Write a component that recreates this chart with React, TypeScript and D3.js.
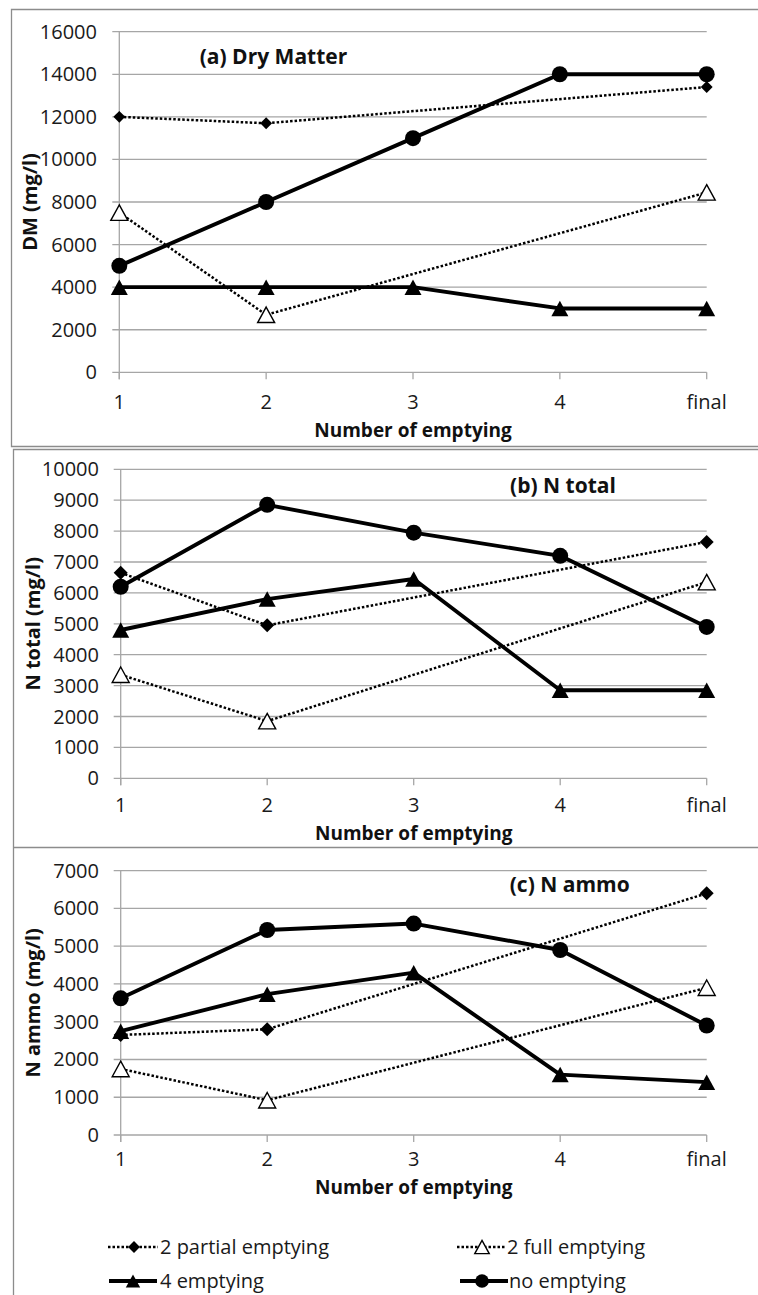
import React from "react";
import * as d3 from "d3";

const categories = ["1", "2", "3", "4", "final"];

// (a) Dry Matter
const dmPartial = [12000, 11700, null, null, 13400];
const dmFull = [7500, 2700, null, null, 8450];
const dmFour = [4000, 4000, 4000, 3000, 3000];
const dmNone = [5000, 8000, 11000, 14000, 14000];
const dmTicks = [0, 2000, 4000, 6000, 8000, 10000, 12000, 14000, 16000];

// (b) N total
const ntPartial = [6650, 4950, null, null, 7650];
const ntFull = [3350, 1850, null, null, 6350];
const ntFour = [4800, 5800, 6450, 2850, 2850];
const ntNone = [6200, 8850, 7950, 7200, 4900];
const ntTicks = [0, 1000, 2000, 3000, 4000, 5000, 6000, 7000, 8000, 9000, 10000];

// (c) N ammo
const naPartial = [2650, 2800, null, null, 6400];
const naFull = [1750, 920, null, null, 3900];
const naFour = [2750, 3730, 4300, 1600, 1400];
const naNone = [3620, 5430, 5600, 4900, 2900];
const naTicks = [0, 1000, 2000, 3000, 4000, 5000, 6000, 7000];

const seriesNames = ["2 partial emptying", "2 full emptying", "4 emptying", "no emptying"];

const FONT = "'Open Sans', 'Noto Sans', sans-serif";
const GRID = "#a6a6a6";
const BORDER = "#8c8c8c";

type Kind = "diamond" | "openTri" | "tri" | "circle";
const kinds: Kind[] = ["diamond", "openTri", "tri", "circle"];

function Marker({ kind, x, y, scale = 1 }: { kind: Kind; x: number; y: number; scale?: number }) {
  if (kind === "circle") return <circle cx={x} cy={y} r={8 * scale} fill="#000" />;
  if (kind === "diamond") {
    const s = 7 * scale;
    return <path d={`M${x},${y - s}L${x + s},${y}L${x},${y + s}L${x - s},${y}Z`} fill="#000" />;
  }
  const w = 17 * scale, h = 15.5 * scale;
  const d = `M${x},${y - h / 2}L${x + w / 2},${y + h / 2}L${x - w / 2},${y + h / 2}Z`;
  if (kind === "tri") return <path d={d} fill="#000" />;
  return <path d={d} fill="#fff" stroke="#000" strokeWidth={1.4} />;
}

type PanelCfg = {
  series: (number | null)[][];
  ticks: number[];
  yTop: number;
  yBottom: number;
  xLeft: number;
  xRight: number;
  tickRight: number;
  yTitle: string;
  yTitleX: number;
  title: string;
  titleX: number;
  titleY: number;
  xTickY: number;
  xTitleY: number;
  diamondScale: number;
};

function Panel({ cfg }: { cfg: PanelCfg }) {
  const x = d3.scalePoint<string>().domain(categories).range([cfg.xLeft, cfg.xRight]);
  const maxV = cfg.ticks[cfg.ticks.length - 1];
  const y = d3.scaleLinear().domain([0, maxV]).range([cfg.yBottom, cfg.yTop]);
  const x0 = x(categories[0])!;
  const line = d3
    .line<{ c: string; v: number | null }>()
    .x((d) => x(d.c)!)
    .y((d) => y(d.v as number));
  return (
    <g>
      {cfg.ticks.map((t) => (
        <g key={t}>
          <line x1={x0 - 7} x2={cfg.xRight} y1={y(t)} y2={y(t)} stroke={GRID} strokeWidth={1.3} />
          <text
            x={cfg.tickRight}
            y={y(t)}
            dy="0.35em"
            textAnchor="end"
            fontSize={20}
            fill="#1a1a1a"
            fontFamily={FONT}
          >
            {t}
          </text>
        </g>
      ))}
      <line x1={x0} x2={x0} y1={cfg.yTop} y2={cfg.yBottom + 7} stroke={GRID} strokeWidth={1.3} />
      {categories.map((c) => (
        <g key={c}>
          <line x1={x(c)} x2={x(c)} y1={cfg.yBottom} y2={cfg.yBottom + 7} stroke={GRID} strokeWidth={1.3} />
          <text x={x(c)} y={cfg.xTickY} dy="0.35em" textAnchor="middle" fontSize={20} fill="#1a1a1a" fontFamily={FONT}>
            {c}
          </text>
        </g>
      ))}
      <text
        x={(cfg.xLeft + cfg.xRight) / 2}
        y={cfg.xTitleY}
        dy="0.35em"
        textAnchor="middle"
        fontSize={19}
        fontWeight="bold"
        fontFamily={FONT}
        fill="#111"
      >
        Number of emptying
      </text>
      <text
        transform={`translate(${cfg.yTitleX},${(cfg.yTop + cfg.yBottom) / 2}) rotate(-90)`}
        dy="0.35em"
        textAnchor="middle"
        fontSize={20}
        fontWeight="bold"
        fontFamily={FONT}
        fill="#111"
      >
        {cfg.yTitle}
      </text>
      <text
        x={cfg.titleX}
        y={cfg.titleY}
        dy="0.35em"
        textAnchor="middle"
        fontSize={21}
        fontWeight="bold"
        fontFamily={FONT}
        fill="#111"
      >
        {cfg.title}
      </text>
      {cfg.series.map((vals, si) => {
        const pts = vals.map((v, i) => ({ c: categories[i], v })).filter((p) => p.v !== null);
        const dotted = si < 2;
        return (
          <g key={si}>
            <path
              d={line(pts) || ""}
              fill="none"
              stroke="#000"
              strokeWidth={dotted ? 2.5 : 3.9}
              strokeDasharray={dotted ? "2.5,2" : undefined}
              strokeLinejoin="round"
            />
            {pts.map((p, i) => (
              <Marker
                key={i}
                kind={kinds[si]}
                x={x(p.c)!}
                y={y(p.v as number)}
                scale={kinds[si] === "diamond" ? cfg.diamondScale : 1}
              />
            ))}
          </g>
        );
      })}
    </g>
  );
}

const panels: PanelCfg[] = [
  {
    series: [dmPartial, dmFull, dmFour, dmNone],
    ticks: dmTicks,
    yTop: 31.7,
    yBottom: 372.3,
    xLeft: 119.3,
    xRight: 706.7,
    tickRight: 97,
    yTitle: "DM (mg/l)",
    yTitleX: 30,
    title: "(a) Dry Matter",
    titleX: 273.5,
    titleY: 57,
    xTickY: 401.7,
    xTitleY: 430,
    diamondScale: 0.85,
  },
  {
    series: [ntPartial, ntFull, ntFour, ntNone],
    ticks: ntTicks,
    yTop: 469.3,
    yBottom: 778.3,
    xLeft: 120.7,
    xRight: 706.7,
    tickRight: 99,
    yTitle: "N total (mg/l)",
    yTitleX: 33,
    title: "(b) N total",
    titleX: 563,
    titleY: 486,
    xTickY: 805,
    xTitleY: 833,
    diamondScale: 1,
  },
  {
    series: [naPartial, naFull, naFour, naNone],
    ticks: naTicks,
    yTop: 870.7,
    yBottom: 1135,
    xLeft: 120.7,
    xRight: 706.7,
    tickRight: 99,
    yTitle: "N ammo (mg/l)",
    yTitleX: 33,
    title: "(c) N ammo",
    titleX: 569.7,
    titleY: 885,
    xTickY: 1159,
    xTitleY: 1187,
    diamondScale: 1,
  },
];

const legendPos = [
  { x1: 108, x2: 158, mx: 134, tx: 160, y: 1247 },
  { x1: 457, x2: 505, mx: 482, tx: 507, y: 1247 },
  { x1: 109, x2: 157, mx: 133, tx: 160, y: 1281 },
  { x1: 460, x2: 508, mx: 482, tx: 509, y: 1281 },
];

export default function App() {
  return (
    <svg
      width={758}
      height={1295}
      style={{ position: "absolute", left: 0, top: 0, background: "#fff" }}
    >
      <rect x={0} y={0} width={758} height={1295} fill="#fff" />
      {/* panel borders */}
      <path d="M760,9.5H11.5V446.5H760" fill="none" stroke={BORDER} strokeWidth={1.3} />
      <path d="M760,449.5H13.5V1300" fill="none" stroke={BORDER} strokeWidth={1.3} />
      <line x1={13.5} x2={760} y1={847.5} y2={847.5} stroke={BORDER} strokeWidth={1.3} />
      {panels.map((p, i) => (
        <Panel key={i} cfg={p} />
      ))}
      {seriesNames.map((name, i) => {
        const lp = legendPos[i];
        const dotted = i < 2;
        return (
          <g key={name}>
            <line
              x1={lp.x1}
              x2={lp.x2}
              y1={lp.y}
              y2={lp.y}
              stroke="#000"
              strokeWidth={dotted ? 2.5 : 3.9}
              strokeDasharray={dotted ? "2.5,2" : undefined}
            />
            <Marker kind={kinds[i]} x={lp.mx} y={lp.y} scale={0.85} />
            <text x={lp.tx} y={lp.y} dy="0.35em" fontSize={20} fill="#1a1a1a" fontFamily={FONT}>
              {name}
            </text>
          </g>
        );
      })}
    </svg>
  );
}
